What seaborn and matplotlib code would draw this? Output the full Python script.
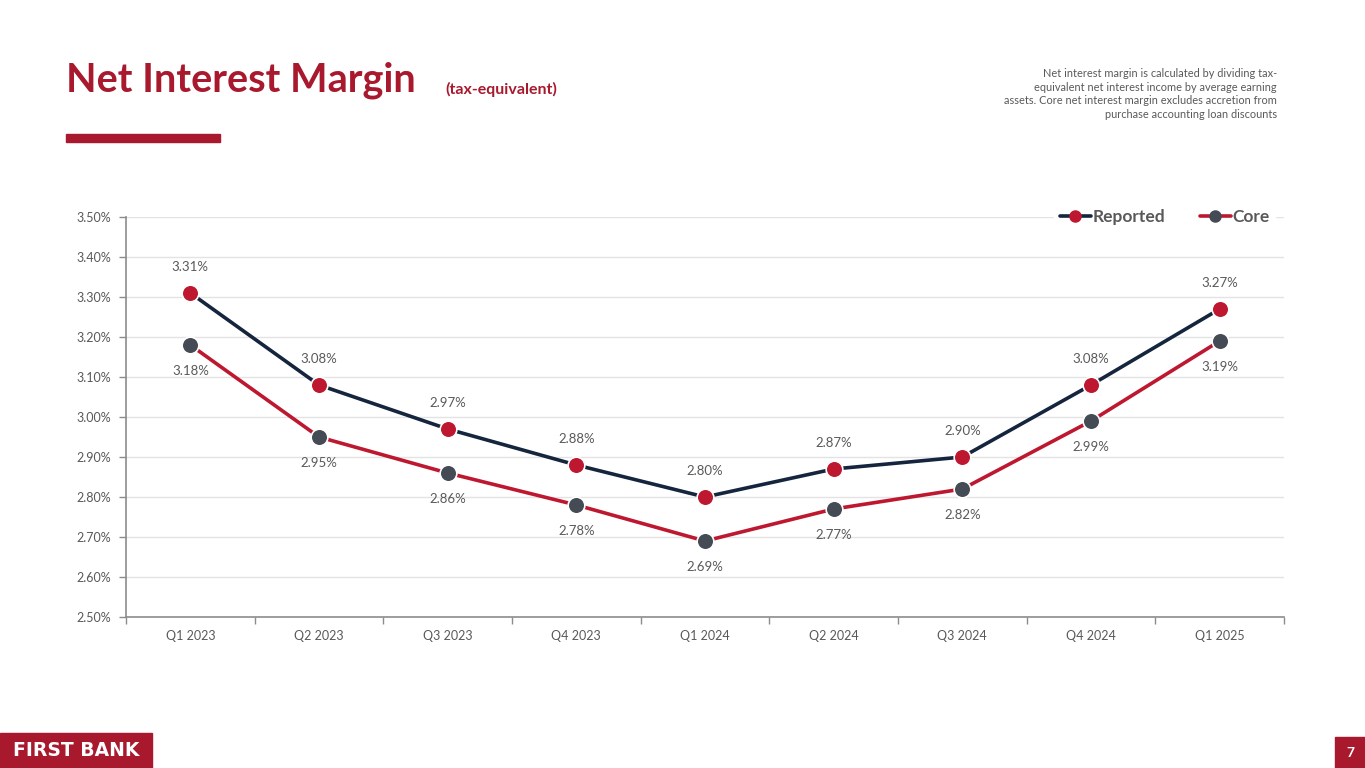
import matplotlib
matplotlib.use("Agg")
import matplotlib.pyplot as plt
import seaborn as sns
import pandas as pd
from matplotlib.patches import Rectangle
from matplotlib.lines import Line2D

quarters = ["Q1 2023", "Q2 2023", "Q3 2023", "Q4 2023", "Q1 2024",
            "Q2 2024", "Q3 2024", "Q4 2024", "Q1 2025"]
reported = [3.31, 3.08, 2.97, 2.88, 2.80, 2.87, 2.90, 3.08, 3.27]
core = [3.18, 2.95, 2.86, 2.78, 2.69, 2.77, 2.82, 2.99, 3.19]
y_ticks = [2.50, 2.60, 2.70, 2.80, 2.90, 3.00, 3.10, 3.20, 3.30, 3.40, 3.50]

NAVY = "#14253D"
RED = "#BE1830"
TITLE_RED = "#A8192E"
GRAY_MK = "#454B54"
TXT = "#595959"

sns.set_theme(style="white")
plt.rcParams["font.family"] = ["Lato", "DejaVu Sans"]

df = pd.DataFrame({"Quarter": quarters * 2,
                   "Value": reported + core,
                   "Series": ["Reported"] * len(quarters) + ["Core"] * len(quarters)})
df["x"] = list(range(len(quarters))) * 2

fig = plt.figure(figsize=(13.65, 7.68), dpi=100)
ax = fig.add_axes([126 / 1365, 1 - 617 / 768, (1284 - 126) / 1365, 400 / 768])

for name, lc, mc in [("Core", RED, GRAY_MK), ("Reported", NAVY, RED)]:
    sub = df[df["Series"] == name]
    sns.lineplot(data=sub, x="x", y="Value", ax=ax, color=lc, linewidth=2.6,
                 marker="o", markersize=12, markerfacecolor=mc,
                 markeredgecolor="white", markeredgewidth=1.2, zorder=3, legend=False)

for i, v in enumerate(reported):
    ax.annotate(f"{v:.2f}%", (i, v), xytext=(0, 19), textcoords="offset points",
                ha="center", va="center", fontsize=9.5, color=TXT)
for i, v in enumerate(core):
    ax.annotate(f"{v:.2f}%", (i, v), xytext=(0, -19), textcoords="offset points",
                ha="center", va="center", fontsize=9.5, color=TXT)

ax.set_xlim(-0.5, len(quarters) - 0.5)
ax.set_ylim(2.50, 3.50)
ax.set_yticks(y_ticks)
ax.set_yticklabels([f"{t:.2f}%" for t in y_ticks])
ax.set_xticks(range(len(quarters)))
ax.set_xticklabels(quarters)
ax.set_xticks([i - 0.5 for i in range(len(quarters) + 1)], minor=True)
ax.tick_params(axis="x", which="major", bottom=False, length=0, pad=9, labelsize=9,
               labelcolor=TXT)
ax.tick_params(axis="x", which="minor", bottom=True, length=5, width=1, color="#8C8C8C",
               direction="out")
ax.tick_params(axis="y", left=True, length=5, width=1, color="#8C8C8C", direction="out",
               labelsize=9, labelcolor=TXT, pad=6)
ax.set_xlabel("")
ax.set_ylabel("")
ax.grid(axis="y", color="#E3E3E3", linewidth=1)
ax.set_axisbelow(True)
for s in ["top", "right"]:
    ax.spines[s].set_visible(False)
for s in ["left", "bottom"]:
    ax.spines[s].set_color("#8C8C8C")
    ax.spines[s].set_linewidth(1.2)

handles = [Line2D([0], [0], color=NAVY, lw=2.6, marker="o", markersize=8,
                  markerfacecolor=RED, markeredgecolor=RED),
           Line2D([0], [0], color=RED, lw=2.6, marker="o", markersize=8,
                  markerfacecolor=GRAY_MK, markeredgecolor=GRAY_MK)]
leg = ax.legend(handles, ["Reported", "Core"], loc="center right",
                bbox_to_anchor=(1.0, 1.0), ncol=2, frameon=True, facecolor="white",
                edgecolor="white", framealpha=1, fontsize=12.5, handlelength=1.8,
                handletextpad=0.1, columnspacing=2.0, borderpad=0.3)
for t in leg.get_texts():
    t.set_color(TXT)
    t.set_fontweight("bold")

# Title
fig.text(66 / 1365, 1 - 80 / 768, "Net Interest Margin", fontsize=28.5, fontweight="bold",
         color=TITLE_RED, va="center", ha="left")
fig.text(445 / 1365, 1 - 89 / 768, "(tax-equivalent)", fontsize=11.5, fontweight="bold",
         color=TITLE_RED, va="center", ha="left")
fig.patches.append(Rectangle((66 / 1365, 1 - 142 / 768), 154 / 1365, 8 / 768,
                             transform=fig.transFigure, color=TITLE_RED))

note = ("Net interest margin is calculated by dividing tax-\n"
        "equivalent net interest income by average earning\n"
        "assets. Core net interest margin excludes accretion from\n"
        "purchase accounting loan discounts")
fig.text(1277 / 1365, 1 - 68 / 768, note, fontsize=7.9, color=TXT, ha="right", va="top",
         multialignment="right", linespacing=1.3)

# Footer
fig.patches.append(Rectangle((0, 0), 152 / 1365, 35 / 768, transform=fig.transFigure,
                             color=TITLE_RED))
fig.text(76 / 1365, 17 / 768, "FIRST BANK", fontsize=13.5, fontweight="bold", color="white",
         ha="center", va="center", family="DejaVu Sans")
fig.patches.append(Rectangle((1335 / 1365, 0), 30 / 1365, 31 / 768, transform=fig.transFigure,
                             color=TITLE_RED))
fig.text(1350 / 1365, 15 / 768, "7", fontsize=10, fontweight="bold", color="white",
         ha="center", va="center")

fig.savefig("out.png", dpi=100, facecolor="white")
